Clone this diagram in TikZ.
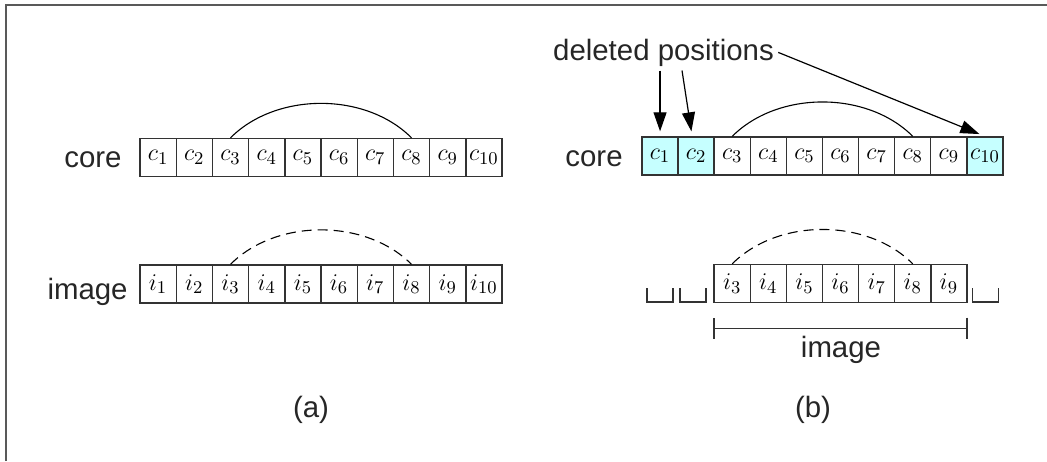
\documentclass[tikz,border=0pt]{standalone}
\usepackage{fontspec}
\setmainfont{Liberation Sans}
\usetikzlibrary{arrows.meta,calc}
\definecolor{delcyan}{RGB}{198,255,255}
\begin{document}
\begin{tikzpicture}[x=0.5pt,y=0.5pt,>={Triangle[length=9.5pt,width=6.5pt]},
  cell/.style={draw=black!80,line width=0.7pt,minimum width=18.1pt,minimum height=19pt,inner sep=0pt,font=\fontsize{13}{15}\selectfont},
  lbl/.style={inner sep=0pt,text=black!85,font=\fontsize{14.7}{17}\selectfont},
  arc/.style={line width=0.55pt},
  slot/.style={line width=0.7pt,draw=black!80}]
  \useasboundingbox (0,0) rectangle (1047,-461);
  \draw[black!65,line width=1.2pt] (6,-461) -- (6,-5) -- (1047,-5);
  \foreach \i in {1,...,10}{
    \node[cell] (lc\i) at ({121.9+36.2*\i},-157.5) {$c_{\i}$};
    \node[cell] (li\i) at ({121.9+36.2*\i},-284) {$i_{\i}$};
  }
  \foreach \i/\f in {1/delcyan,2/delcyan,3/white,4/white,5/white,6/white,7/white,8/white,9/white,10/delcyan}
    \node[cell,fill=\f] (rc\i) at ({623.95+36.1*\i},-156) {$c_{\i}$};
  \foreach \i in {3,...,9}
    \node[cell] (ri\i) at ({623.95+36.1*\i},-283.5) {$i_{\i}$};
  \node[lbl,anchor=base east] (lcore) at (122,-167) {core};
  \node[lbl,anchor=base east] (limg) at (128,-299) {image};
  \node[lbl,anchor=base east] (rcore) at (623,-166) {core};
  \draw[arc] (lc3.north) to[out=45,in=135,looseness=0.92] (lc8.north);
  \draw[arc,dash pattern=on 5pt off 3pt] (li3.north) to[out=45,in=135,looseness=0.92] (li8.north);
  \draw[arc] (rc3.north) to[out=45,in=135,looseness=0.92] (rc8.north);
  \draw[arc,dash pattern=on 5pt off 3pt] (ri3.north) to[out=45,in=135,looseness=0.92] (ri8.north);
  \foreach \x in {660,693,985.5}
    \draw[slot] (\x-13,-288) |- (\x+13,-302) -- (\x+13,-288);
  \coordinate (d1) at ($(ri3.south west)+(0,-25)$);
  \coordinate (d2) at ($(ri9.south east)+(0,-25)$);
  \draw[slot,{Bar[width=10.5pt]}-{Bar[width=10.5pt]}] (d1) -- (d2);
  \node[lbl,anchor=base] (rimg) at (841,-357) {image};
  \node[lbl,anchor=base,inner sep=2pt] (dp) at (663.5,-60) {deleted positions};
  \draw[->,line width=0.6pt,shorten >=2.5pt] (dp.south -| rc1.north) -- (rc1.north);
  \draw[->,line width=0.6pt,shorten >=2.5pt] ($(dp.south)+(18.5,0)$) -- ($(rc2.north)+(-4,0)$);
  \draw[->,line width=0.6pt,shorten >=3pt] (dp.east) -- (rc10.north);
  \node[lbl,anchor=base] (capa) at (311,-417) {(a)};
  \node[lbl,anchor=base] (capb) at (813,-417) {(b)};
\end{tikzpicture}
\end{document}
